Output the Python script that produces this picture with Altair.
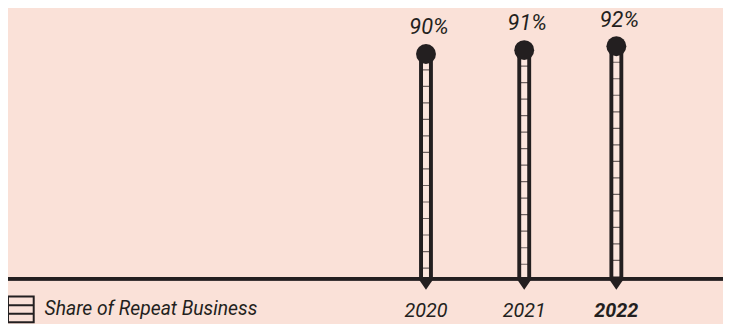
import altair as alt
import pandas as pd

# ---- data ----
years = [2020, 2021, 2022]
shares = [90, 91, 92]
share_labels = ["90%", "91%", "92%"]
year_labels = ["2020", "2021", "2022"]
bold_flags = [False, False, True]
series_name = "Share of Repeat Business"

# ---- styles ----
BG = "#FAE1D8"
DARK = "#231F20"
RUNG = "#6E6260"
INNER = "#FBE6DE"
FONT = "Roboto"
BASE = 31  # value at the baseline of the (non-zero) y scale

df = pd.DataFrame({
    "year": years,
    "share": shares,
    "base": [BASE] * len(years),
    "label": share_labels,
    "year_label": year_labels,
    "bold": bold_flags,
    "series": [series_name] * len(years),
})

W, H = 723, 272

x = alt.X("year:Q", scale=alt.Scale(domain=years, range=[417.5, 522, 620], nice=False, zero=False), axis=None)
yscale = alt.Scale(domain=[BASE, 101.6], nice=False, zero=False)
y = alt.Y("share:Q", scale=yscale, axis=None)
yb = alt.Y("base:Q", scale=yscale, axis=None)

base = alt.Chart(df).encode(x=x)

outer = base.mark_bar(size=14, color=DARK).encode(y=y, y2="base:Q")
inner_rung = base.mark_rule(color=RUNG, strokeWidth=6, strokeCap="butt").encode(
    y=y, y2="base:Q"
)
inner_light = base.mark_rule(
    color=INNER, strokeWidth=6, strokeCap="butt", strokeDash=[15.5, 1.2]
).encode(y=y, y2="base:Q")

circles = base.mark_circle(size=405, color=DARK, opacity=1).encode(y=y)

baseline = alt.Chart(df).mark_rule(color=DARK, strokeWidth=3.5).encode(
    y=yb, x=alt.value(0), x2=alt.value(W)
)

triangles = base.mark_point(
    shape="M-1,-0.7L1,-0.7L0,0.75Z", size=196, filled=True, color=DARK,
    opacity=1, yOffset=6,
).encode(y=yb)

pct = base.mark_text(
    font=FONT, fontStyle="italic", fontSize=22, color=DARK, dy=-20, dx=3,
    baseline="alphabetic",
).encode(y=y, text="label:N")

yrs = base.transform_filter("!datum.bold").mark_text(
    font=FONT, fontStyle="italic", fontSize=20, color=DARK, dy=39,
    baseline="alphabetic",
).encode(y=yb, text="year_label:N")

yrs_bold = base.transform_filter("datum.bold").mark_text(
    font=FONT, fontStyle="italic", fontWeight="bold", fontSize=20, color=DARK,
    dy=39, baseline="alphabetic",
).encode(y=yb, text="year_label:N")

legend_layer = base.mark_square(size=10, stroke=DARK, strokeWidth=2.5, opacity=1).encode(
    y=y,
    fill=alt.Fill(
        "series:N",
        scale=alt.Scale(range=[BG]),
        legend=alt.Legend(
            title=None, orient="none", legendX=-1, legendY=289, padding=0,
            symbolType="M-1,-1H1V1H-1Z M-1,-0.33H1 M-1,0.33H1",
            symbolSize=676, symbolStrokeColor=DARK, symbolStrokeWidth=2,
            labelFont=FONT, labelFontStyle="italic", labelFontSize=19.5,
            labelColor=DARK, labelOffset=10, labelLimit=400,
        ),
    ),
)

chart = alt.layer(
    legend_layer, outer, inner_rung, inner_light, circles, baseline, triangles,
    pct, yrs, yrs_bold,
).properties(
    width=W, height=H, background=BG,
    padding={"left": 0, "top": 0, "right": 0, "bottom": 44},
    autosize=alt.AutoSizeParams(type="none"),
).configure_view(strokeWidth=0)

chart.save("out.html", embed_options={"renderer": "svg", "actions": False})
